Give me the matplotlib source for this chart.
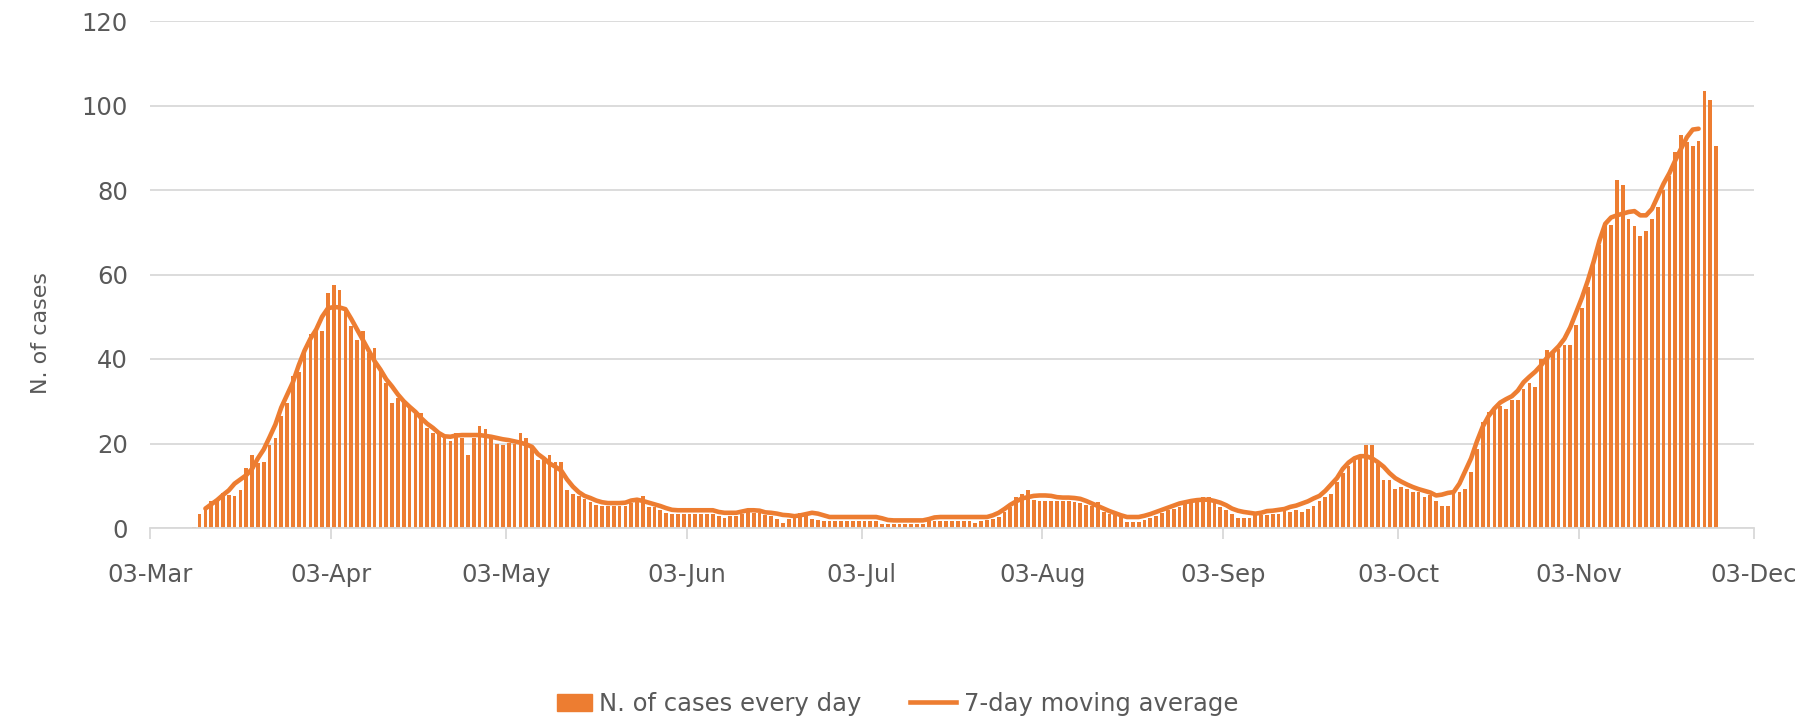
import datetime as dt

import matplotlib

matplotlib.use('Agg')
import matplotlib.dates as mdates
import matplotlib.pyplot as plt
from matplotlib.legend_handler import HandlerPatch
from matplotlib.lines import Line2D
from matplotlib.patches import Patch, Rectangle

# ----- data --------------------------------------------------------------
AXIS_START = dt.date(2020, 3, 3)
AXIS_END = dt.date(2020, 12, 3)
BARS_START = dt.date(2020, 3, 10)   # first daily bar
AVG_START = dt.date(2020, 3, 12)    # first moving-average point

daily_cases = [
    0.3, 3.4, 5.0, 6.3, 6.6, 8.3, 7.9, 7.5, 9.1, 14.3,
    17.2, 15.3, 15.7, 19.6, 21.2, 26.4, 29.5, 36.0, 37.0, 42.4,
    45.8, 46.6, 46.6, 55.7, 57.4, 56.3, 52.0, 47.8, 44.4, 46.6,
    41.5, 42.5, 37.5, 34.4, 29.5, 30.8, 30.0, 28.7, 27.5, 27.2,
    23.7, 22.5, 22.5, 21.7, 20.5, 22.5, 21.3, 17.3, 21.3, 24.2,
    23.5, 22.0, 20.0, 19.6, 20.2, 20.0, 22.5, 21.3, 19.5, 16.2,
    16.2, 17.3, 15.7, 15.7, 9.1, 8.1, 7.6, 6.9, 6.2, 5.4,
    5.2, 5.2, 5.2, 5.2, 5.2, 5.8, 6.5, 7.5, 5.0, 5.0,
    4.3, 3.5, 3.4, 3.4, 3.4, 3.4, 3.4, 3.4, 3.4, 3.4,
    2.8, 2.4, 2.8, 2.8, 3.4, 3.8, 3.5, 3.5, 3.0, 2.8,
    2.2, 1.2, 2.2, 2.6, 3.5, 3.2, 2.2, 1.8, 1.6, 1.6,
    1.6, 1.6, 1.6, 1.6, 1.6, 1.6, 1.6, 1.6, 1.0, 1.0,
    1.0, 1.0, 1.0, 1.0, 1.0, 1.0, 1.6, 1.6, 1.6, 1.6,
    1.6, 1.6, 1.6, 1.6, 1.2, 1.6, 1.8, 2.2, 2.6, 3.8,
    5.0, 7.3, 8.0, 8.9, 6.7, 6.4, 6.5, 6.5, 6.4, 6.4,
    6.4, 6.2, 5.8, 5.4, 5.1, 6.2, 3.8, 3.4, 3.0, 2.6,
    1.4, 1.4, 1.4, 1.8, 2.4, 2.8, 3.5, 4.3, 4.6, 5.0,
    5.6, 5.8, 6.2, 7.3, 7.3, 5.8, 5.0, 4.2, 3.4, 2.4,
    2.4, 2.4, 3.0, 3.0, 3.0, 3.4, 3.4, 4.0, 3.9, 4.2,
    3.9, 4.6, 5.1, 6.3, 7.3, 8.0, 10.9, 12.9, 14.6, 16.8,
    17.2, 19.6, 19.6, 15.2, 11.4, 11.4, 9.3, 9.7, 9.3, 8.5,
    8.5, 7.3, 7.7, 6.5, 5.1, 5.1, 8.1, 8.5, 9.3, 13.2,
    18.6, 25.1, 27.5, 28.1, 28.8, 28.1, 30.3, 30.3, 33.0, 34.3,
    33.3, 40.0, 42.2, 41.4, 42.4, 43.4, 43.4, 48.0, 52.0, 57.0,
    63.0, 67.0, 71.5, 71.6, 82.3, 81.2, 73.2, 71.5, 69.2, 70.4,
    73.2, 75.9, 80.0, 83.4, 89.1, 93.1, 91.3, 90.4, 91.5, 103.5,
    101.2, 90.4,
]

moving_avg = [
    4.6, 5.6, 6.6, 7.8, 8.9, 10.5, 11.5, 12.5, 14.0, 16.5,
    18.6, 21.5, 24.5, 28.5, 31.5, 34.5, 38.5, 42.0, 44.8, 47.0,
    50.0, 52.0, 52.3, 52.2, 51.8, 49.5, 47.0, 44.5, 42.0, 39.5,
    37.5, 35.2, 33.5, 31.6, 30.0, 28.7, 27.5, 26.0, 24.7, 23.7,
    22.5, 21.7, 21.6, 21.9, 22.0, 22.0, 22.0, 22.0, 21.8, 21.6,
    21.3, 21.0, 20.8, 20.5, 20.2, 19.8, 19.2, 17.5, 16.5, 15.3,
    14.5, 13.6, 11.5, 9.8, 8.5, 7.6, 7.1, 6.5, 6.1, 5.9,
    5.9, 5.9, 6.0, 6.5, 6.7, 6.4, 6.0, 5.6, 5.2, 4.7,
    4.3, 4.2, 4.2, 4.2, 4.2, 4.2, 4.2, 4.2, 3.8, 3.6,
    3.6, 3.6, 3.9, 4.2, 4.2, 4.1, 3.7, 3.6, 3.4, 3.1,
    3.0, 2.8, 3.0, 3.3, 3.6, 3.4, 3.0, 2.6, 2.6, 2.6,
    2.6, 2.6, 2.6, 2.6, 2.6, 2.6, 2.3, 1.9, 1.8, 1.8,
    1.8, 1.8, 1.8, 1.8, 2.1, 2.5, 2.6, 2.6, 2.6, 2.6,
    2.6, 2.6, 2.6, 2.6, 2.6, 3.0, 3.6, 4.5, 5.5, 6.3,
    7.0, 7.3, 7.6, 7.7, 7.7, 7.6, 7.3, 7.2, 7.2, 7.1,
    6.9, 6.4, 5.8, 5.2, 4.6, 4.0, 3.5, 3.0, 2.6, 2.6,
    2.6, 2.9, 3.3, 3.8, 4.3, 4.8, 5.3, 5.8, 6.1, 6.4,
    6.6, 6.7, 6.7, 6.4, 6.0, 5.4, 4.6, 4.1, 3.8, 3.6,
    3.4, 3.6, 4.0, 4.1, 4.3, 4.5, 5.0, 5.3, 5.8, 6.3,
    7.0, 7.6, 8.8, 10.3, 11.8, 14.0, 15.5, 16.5, 17.0, 17.0,
    16.5, 15.6, 14.5, 13.0, 11.8, 11.0, 10.3, 9.7, 9.2, 8.8,
    8.4, 7.7, 7.9, 8.3, 8.5, 10.5, 13.5, 16.5, 20.5, 24.0,
    26.5, 28.3, 29.7, 30.5, 31.2, 32.5, 34.5, 35.8, 37.0, 38.5,
    40.3, 41.6, 43.0, 44.8, 47.5, 51.0, 54.5, 58.5, 63.0, 68.0,
    72.0, 73.5, 74.0, 74.4, 74.8, 75.0, 74.0, 74.0, 75.5, 78.5,
    81.5, 84.0, 87.0, 89.8, 92.5, 94.3, 94.5,
]

y_ticks = [0, 20, 40, 60, 80, 100, 120]
y_label = 'N. of cases'
series_labels = ['N. of cases every day', '7-day moving average']

# ----- style knobs ---------------------------------------------------------
ORANGE = '#ED7D31'
GRID = '#D9D9D9'
TEXT = '#595959'
FONT = 17.5
W, H = 1819, 724


def day_positions(start, n):
    """Centre of each daily slot (Excel puts values between the tick marks)."""
    base = mdates.date2num(start)
    return [base + i + 0.5 for i in range(n)]


def narrow_key(legend, orig_handle, xdescent, ydescent, width, height, fontsize):
    # the bar key is a bit narrower than the line key, flush with its label
    return Rectangle((-xdescent + 0.25 * width, -ydescent), 0.75 * width, height)


fig = plt.figure(figsize=(W / 100, H / 100), dpi=100)
ax = fig.add_axes([150 / W, 1 - 528 / H, 1604 / W, 507 / H])

ax.bar(day_positions(BARS_START, len(daily_cases)), daily_cases,
       width=0.64, color=ORANGE, zorder=2)
ax.plot(day_positions(AVG_START, len(moving_avg)), moving_avg,
        color=ORANGE, lw=3.3, solid_joinstyle='round', solid_capstyle='round',
        zorder=3)

ax.set_xlim(mdates.date2num(AXIS_START), mdates.date2num(AXIS_END))
ax.set_ylim(0, 120)
ax.set_yticks(y_ticks)
ax.xaxis.set_major_locator(mdates.MonthLocator(bymonthday=3))
ax.xaxis.set_major_formatter(mdates.DateFormatter('%d-%b'))

ax.grid(axis='y', color=GRID, lw=1.3)
ax.set_axisbelow(True)
for side in ('top', 'right', 'left'):
    ax.spines[side].set_visible(False)
ax.spines['bottom'].set_color(GRID)
ax.spines['bottom'].set_linewidth(1.3)

ax.tick_params(axis='x', length=8, width=1.3, color=GRID, pad=17,
               labelsize=FONT, labelcolor=TEXT)
ax.tick_params(axis='y', length=0, pad=16, labelsize=FONT, labelcolor=TEXT)

ax.set_ylabel(y_label, fontsize=16, color=TEXT)
ax.yaxis.set_label_coords(-0.062, 0.385)

handles = [Patch(color=ORANGE), Line2D([], [], color=ORANGE, lw=3.3)]
fig.legend(handles, series_labels, loc='center', ncol=2, frameon=False,
           bbox_to_anchor=(892 / W, 1 - 704 / H), fontsize=FONT,
           labelcolor=TEXT, handlelength=1.9, handleheight=0.7,
           handletextpad=0.3, columnspacing=2.0,
           handler_map={Patch: HandlerPatch(patch_func=narrow_key)})

fig.savefig('out.png', dpi=100)
